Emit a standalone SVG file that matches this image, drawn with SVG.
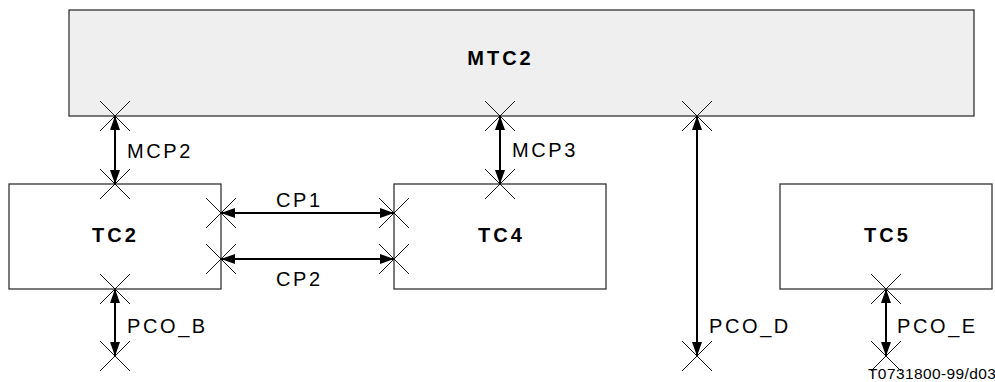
<svg xmlns="http://www.w3.org/2000/svg" width="995" height="382" viewBox="0 0 995 382">
<defs>
<style>
.box{fill:#fff;stroke:#333;stroke-width:1.3}
.mtc{fill:#efefef;stroke:#333;stroke-width:1.3}
.t{font-family:"Liberation Sans",Arial,sans-serif;font-size:20px;letter-spacing:2.6px;fill:#000}
.b{font-family:"Liberation Sans",Arial,sans-serif;font-size:20px;font-weight:bold;letter-spacing:3px;fill:#000}
.c{stroke:#000;stroke-width:2;fill:none}
.x{stroke:#000;stroke-width:0.9;fill:none}
.s{font-family:"Liberation Sans",Arial,sans-serif;font-size:15.5px;letter-spacing:0.4px;fill:#000}
</style>
<marker id="ah" viewBox="0 0 14 10" refX="14" refY="5" markerWidth="14" markerHeight="10" markerUnits="userSpaceOnUse" orient="auto-start-reverse">
<path d="M0,0 L14,5 L0,10 Z" fill="#000"/>
</marker>
<path id="cross" d="M-15,-15 L15,15 M-15,15 L15,-15"/>
</defs>
<g id="MTC2"><rect class="mtc" x="69" y="10" width="905" height="106"/><text class="b" x="500.5" y="65" text-anchor="middle">MTC2</text></g>
<g id="TC2"><rect class="box" x="9" y="184" width="212" height="105"/><text class="b" x="115.5" y="242" text-anchor="middle">TC2</text></g>
<g id="TC4"><rect class="box" x="394" y="184" width="212" height="105"/><text class="b" x="501.5" y="242" text-anchor="middle">TC4</text></g>
<g id="TC5"><rect class="box" x="780" y="184" width="212" height="105"/><text class="b" x="887.5" y="242" text-anchor="middle">TC5</text></g>
<g id="connectors">
<line class="c" x1="115" y1="116" x2="115" y2="184" marker-start="url(#ah)" marker-end="url(#ah)"/>
<line class="c" x1="500" y1="116" x2="500" y2="184" marker-start="url(#ah)" marker-end="url(#ah)"/>
<line class="c" x1="697" y1="116" x2="697" y2="356" marker-start="url(#ah)" marker-end="url(#ah)"/>
<line class="c" x1="221" y1="213" x2="394" y2="213" marker-start="url(#ah)" marker-end="url(#ah)"/>
<line class="c" x1="221" y1="259" x2="394" y2="259" marker-start="url(#ah)" marker-end="url(#ah)"/>
<line class="c" x1="115" y1="289" x2="115" y2="356" marker-start="url(#ah)" marker-end="url(#ah)"/>
<line class="c" x1="886" y1="289" x2="886" y2="356" marker-start="url(#ah)" marker-end="url(#ah)"/>
<g class="x">
<use href="#cross" x="115" y="116"/><use href="#cross" x="115" y="184"/>
<use href="#cross" x="500" y="116"/><use href="#cross" x="500" y="184"/>
<use href="#cross" x="697" y="116"/><use href="#cross" x="697" y="356"/>
<use href="#cross" x="221" y="213"/><use href="#cross" x="394" y="213"/>
<use href="#cross" x="221" y="259"/><use href="#cross" x="394" y="259"/>
<use href="#cross" x="115" y="289"/><use href="#cross" x="115" y="356"/>
<use href="#cross" x="886" y="289"/><use href="#cross" x="886" y="356"/>
</g>
<text class="t" x="127" y="158">MCP2</text>
<text class="t" x="512" y="157">MCP3</text>
<text class="t" x="276" y="207">CP1</text>
<text class="t" x="276" y="286">CP2</text>
<text class="t" x="127" y="333">PCO_B</text>
<text class="t" x="709" y="333">PCO_D</text>
<text class="t" x="897" y="333">PCO_E</text>
</g>
<text class="s" x="868" y="379">T0731800-99/d03</text>
</svg>
